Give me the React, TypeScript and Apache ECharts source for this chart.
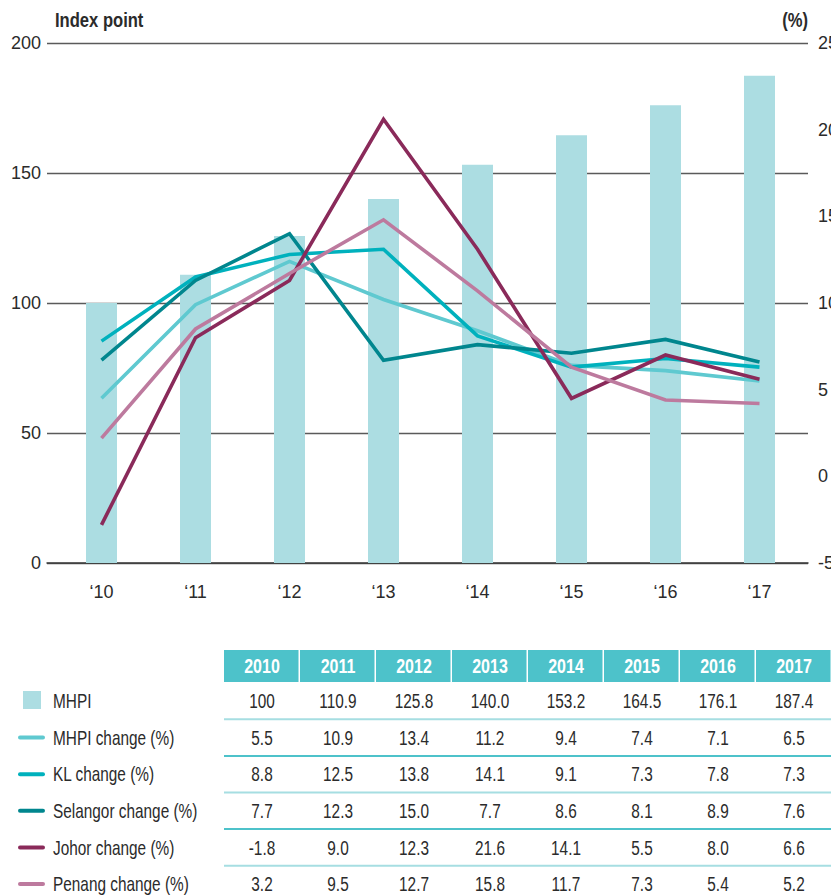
import React, { useEffect, useRef } from "react";
import * as echarts from "echarts";

const years = ["2010", "2011", "2012", "2013", "2014", "2015", "2016", "2017"];
const yearTicks = ["‘10", "‘11", "‘12", "‘13", "‘14", "‘15", "‘16", "‘17"];
const mhpi = [100, 110.9, 125.8, 140.0, 153.2, 164.5, 176.1, 187.4];
const mhpiChange = [5.5, 10.9, 13.4, 11.2, 9.4, 7.4, 7.1, 6.5];
const klChange = [8.8, 12.5, 13.8, 14.1, 9.1, 7.3, 7.8, 7.3];
const selangorChange = [7.7, 12.3, 15.0, 7.7, 8.6, 8.1, 8.9, 7.6];
const johorChange = [-1.8, 9.0, 12.3, 21.6, 14.1, 5.5, 8.0, 6.6];
const penangChange = [3.2, 9.5, 12.7, 15.8, 11.7, 7.3, 5.4, 5.2];

const lineSeries = [
  { name: "MHPI change (%)", data: mhpiChange, color: "#5FC9D0" },
  { name: "KL change (%)", data: klChange, color: "#00B1BD" },
  { name: "Selangor change (%)", data: selangorChange, color: "#00868E" },
  { name: "Johor change (%)", data: johorChange, color: "#8A2A5A" },
  { name: "Penang change (%)", data: penangChange, color: "#BD7A9E" },
];

const BAR_COLOR = "#ACDDE2";
const HEADER_COLOR = "#4DC2CA";
const LIGHT_RULE = "#A6DEE2";
const TEXT = "#2b2b2b";
const FONT = "'Liberation Sans', Arial, sans-serif";
const NARROW = 0.75;

export default function App() {
  const ref = useRef<HTMLDivElement>(null);
  useEffect(() => {
    if (!ref.current) return;
    const chart = echarts.init(ref.current, undefined, { renderer: "svg" });

    const colX0 = 224;
    const colW = 76;
    const headerY = 650;
    const headerH = 32;
    const row0 = 701;
    const rowH = 36.6;

    const graphics: any[] = [];
    graphics.push({
      type: "text", x: 55, y: 20, scaleX: 0.79,
      style: { text: "Index point", font: `bold 21px ${FONT}`, fill: TEXT, verticalAlign: "middle" },
    });
    graphics.push({
      type: "text", x: 808, y: 20, scaleX: 0.79,
      style: { text: "(%)", font: `bold 21px ${FONT}`, fill: TEXT, align: "right", verticalAlign: "middle" },
    });
    years.forEach((y, i) => {
      graphics.push({
        type: "rect",
        shape: { x: colX0 + colW * i, y: headerY, width: colW - 1.5, height: headerH },
        style: { fill: HEADER_COLOR },
      });
      graphics.push({
        type: "text", scaleX: 0.8,
        x: colX0 + colW * i + colW / 2, y: headerY + headerH / 2 + 0.5,
        style: { text: y, font: `bold 20px ${FONT}`, fill: "#fff", align: "center", verticalAlign: "middle" },
      });
    });
    const rows = [
      { name: "MHPI", data: mhpi.map((v, i) => (i === 0 ? String(v) : v.toFixed(1))), color: BAR_COLOR, bar: true },
      ...lineSeries.map((s) => ({ name: s.name, data: s.data.map((v) => v.toFixed(1)), color: s.color, bar: false })),
    ];
    rows.forEach((r, ri) => {
      const cy = row0 + rowH * ri;
      if (r.bar) {
        graphics.push({ type: "rect", shape: { x: 23, y: cy - 10, width: 18, height: 18 }, style: { fill: r.color } });
      } else {
        graphics.push({
          type: "line", shape: { x1: 20, y1: cy, x2: 43, y2: cy },
          style: { stroke: r.color, lineWidth: 4, lineCap: "round" },
        });
      }
      graphics.push({
        type: "text", x: 53, y: cy + 0.5, scaleX: NARROW,
        style: { text: r.name, font: `20.5px ${FONT}`, fill: TEXT, verticalAlign: "middle" },
      });
      r.data.forEach((t, ci) => {
        graphics.push({
          type: "text", x: colX0 + colW * ci + colW / 2, y: cy + 0.5, scaleX: NARROW,
          style: { text: t, font: `20.5px ${FONT}`, fill: TEXT, align: "center", verticalAlign: "middle" },
        });
      });
      if (ri < rows.length - 1) {
        const ly = cy + rowH / 2;
        graphics.push({
          type: "line", shape: { x1: colX0, y1: ly, x2: 831, y2: ly },
          style: { stroke: ri % 2 === 0 ? LIGHT_RULE : HEADER_COLOR, lineWidth: 2 },
        });
      }
    });

    const option: any = {
      animation: false,
      textStyle: { fontFamily: FONT },
      grid: [
        { left: 47, right: 23, top: 43, bottom: 332, containLabel: false, outerBoundsMode: "none" },
        { left: 54.5, right: 24.5, top: 43, bottom: 332, containLabel: false, outerBoundsMode: "none" },
      ],
      xAxis: [
        {
          type: "category", gridIndex: 0, data: years, boundaryGap: true,
          axisLine: { show: true, lineStyle: { color: "#3a3a3a", width: 1.5 } },
          axisTick: { show: false }, axisLabel: { show: false }, splitLine: { show: false },
        },
        {
          type: "category", gridIndex: 1, data: yearTicks, boundaryGap: true,
          axisLine: { show: false }, axisTick: { show: false },
          axisLabel: { margin: 20, fontSize: 18, color: TEXT, fontFamily: FONT },
        },
      ],
      yAxis: [
        {
          type: "value", gridIndex: 0, position: "left", min: 0, max: 200, interval: 50,
          axisLine: { show: false }, axisTick: { show: false },
          axisLabel: { margin: 6, fontSize: 18, color: TEXT, fontFamily: FONT },
          splitLine: { show: true, lineStyle: { color: "#5a5a5a", width: 1.3 } },
        },
        {
          type: "value", gridIndex: 0, position: "right", min: -5, max: 25, interval: 5,
          axisLine: { show: false }, axisTick: { show: false },
          axisLabel: { margin: 10, fontSize: 18, color: TEXT, fontFamily: FONT },
          splitLine: { show: false },
        },
        { type: "value", gridIndex: 1, min: 0, max: 200, show: false, splitLine: { show: false } },
        { type: "value", gridIndex: 1, min: -4, max: 26, show: false, splitLine: { show: false } },
      ],
      series: [
        {
          name: "MHPI", type: "bar", xAxisIndex: 1, yAxisIndex: 2, data: mhpi,
          barWidth: 31, itemStyle: { color: BAR_COLOR },
        },
        ...lineSeries.map((s) => ({
          name: s.name, type: "line", xAxisIndex: 1, yAxisIndex: 3, data: s.data,
          showSymbol: false, symbol: "none",
          lineStyle: { color: s.color, width: 3.6, join: "miter" },
          itemStyle: { color: s.color },
        })),
      ],
      graphic: graphics,
    };
    chart.setOption(option);
    return () => chart.dispose();
  }, []);
  return (
    <div
      ref={ref}
      style={{ position: "absolute", left: 0, top: 0, width: 831, height: 895, background: "#fff" }}
    />
  );
}
